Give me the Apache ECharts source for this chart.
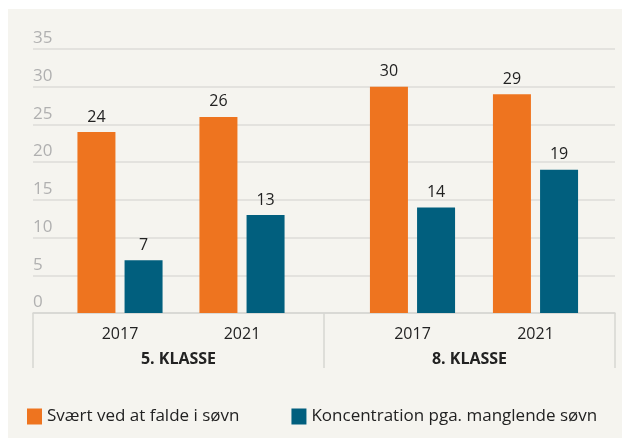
<!DOCTYPE html>
<html>
<head>
<meta charset="utf-8">
<script src="https://cdn.jsdelivr.net/npm/echarts@6/dist/echarts.min.js"></script>
<style>
    html,body{margin:0;padding:0;background:#fff;}
    #chart{width:622px;height:438px;}
</style>
</head>
<body>
<div id="chart"></div>
<script>
"use strict";
/*data*/
let groups = ['5. KLASSE','8. KLASSE'];
let years = ['2017','2021'];
let seriesNames = ['Svært ved at falde i søvn','Koncentration pga. manglende søvn'];
let sleep5 = [24,26];
let conc5 = [7,13];
let sleep8 = [30,29];
let conc8 = [14,19];
let yTicks = [0,5,10,15,20,25,30,35];

let colors = ['#ee741f','#015f7e'];
let font = "'Open Sans', Lato, sans-serif";

let hiddenY = (idx)=>({
    gridIndex:idx, type:'value', min:0, max:35, show:false
});
let yearAxis = (idx)=>({
    gridIndex:idx, type:'category', data:years,
    axisLine:{show:false}, axisTick:{show:false},
    axisLabel:{color:'#222', fontSize:16, fontFamily:font, margin:13}
});
let bar = (idx,name,color,data)=>({
    type:'bar', name:name, xAxisIndex:idx, yAxisIndex:idx,
    barWidth:38, barGap:'24%',
    itemStyle:{color:color},
    label:{show:true, position:'top', distance:7, color:'#222', fontSize:16, fontFamily:font},
    data:data
});

let chart = echarts.init(document.getElementById('chart'));
let option = {
    animation:false,
    backgroundColor:'#fff',
    color:colors,
    graphic:[{
        type:'rect', z:-10, silent:true,
        shape:{x:8, y:9, width:614, height:429},
        style:{fill:'#f5f4ef'}
    }],
    legend:{
        left:22, top:403,
        itemWidth:15, itemHeight:16, itemGap:52,
        icon:'rect',
        textStyle:{color:'#222', fontSize:17, fontFamily:font},
        data:seriesNames
    },
    grid:[
        {left:33, right:7, top:49, bottom:125},
        {left:59, width:244, top:49, bottom:125},
        {left:351, width:246, top:49, bottom:125}
    ],
    xAxis:[
        {
            gridIndex:0, type:'category', data:groups,
            axisLine:{lineStyle:{color:'#d6d6d2', width:1.5}},
            axisTick:{show:true, length:55, alignWithLabel:false, lineStyle:{color:'#d6d6d2', width:1.5}},
            axisLabel:{color:'#222', fontSize:16, fontWeight:'bold', fontFamily:font, margin:38}
        },
        yearAxis(1),
        yearAxis(2)
    ],
    yAxis:[
        {
            gridIndex:0, type:'value', min:0, max:35, interval:5,
            axisLine:{show:false}, axisTick:{show:false},
            splitLine:{lineStyle:{color:'#dcdcd8', width:1.5}},
            axisLabel:{
                inside:true, margin:0, align:'left', verticalAlign:'bottom',
                padding:[0,0,2,0],
                color:'#b0b0b0', fontSize:17, fontFamily:font,
                formatter:(v)=>yTicks.indexOf(v) > -1 ? v : ''
            }
        },
        hiddenY(1),
        hiddenY(2)
    ],
    series:[
        bar(1,seriesNames[0],colors[0],sleep5),
        bar(1,seriesNames[1],colors[1],conc5),
        bar(2,seriesNames[0],colors[0],sleep8),
        bar(2,seriesNames[1],colors[1],conc8)
    ]
};
chart.setOption(option);
</script>
</body>
</html>
